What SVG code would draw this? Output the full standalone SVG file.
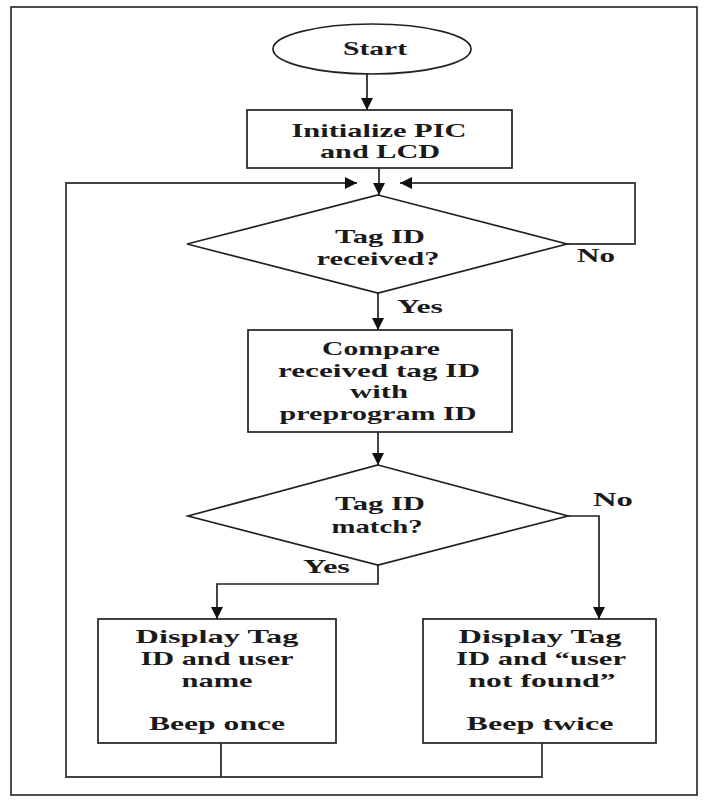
<svg xmlns="http://www.w3.org/2000/svg" width="707" height="803" viewBox="0 0 707 803">
<style>
.shape{fill:#fff;stroke:#222;stroke-width:1.7}
.line{fill:none;stroke:#222;stroke-width:1.7}
.loop{fill:none;stroke:#444;stroke-width:1.9}
text{font-family:"Liberation Serif","Times New Roman",serif;font-size:19px;font-weight:bold;fill:#1a1a1a;text-anchor:middle}
.lbl{text-anchor:start}
</style>
<defs>
<marker id="ah" markerUnits="userSpaceOnUse" markerWidth="12" markerHeight="12" refX="12" refY="6" orient="auto">
<path d="M0,0 L12,6 L0,12 z" fill="#111"/>
</marker>
</defs>
<rect x="11" y="7" width="686" height="788" fill="#fff" stroke="#222" stroke-width="1.6"/>
<g id="connectors">
<path class="line" d="M367,74 L367,110" marker-end="url(#ah)"/>
<path class="line" d="M379,168 L379,195" marker-end="url(#ah)"/>
<path class="loop" d="M567,244 L635,244 L635,183 L400,183" marker-end="url(#ah)"/>
<path class="loop" d="M542,743 L542,777 L66,777 L66,183 L357,183" marker-end="url(#ah)"/>
<path class="line" d="M221,743 L221,777"/>
<path class="line" d="M378,293 L378,330" marker-end="url(#ah)"/>
<path class="line" d="M378,432 L378,465" marker-end="url(#ah)"/>
<path class="line" d="M568,516 L599,516 L599,619" marker-end="url(#ah)"/>
<path class="line" d="M378,565 L378,584 L217,584 L217,619" marker-end="url(#ah)"/>
<text class="lbl" x="577" y="262" textLength="38" lengthAdjust="spacingAndGlyphs">No</text>
<text class="lbl" x="397" y="313" textLength="46" lengthAdjust="spacingAndGlyphs">Yes</text>
<text class="lbl" x="593" y="506" textLength="40" lengthAdjust="spacingAndGlyphs">No</text>
<text class="lbl" x="303" y="573" textLength="47" lengthAdjust="spacingAndGlyphs">Yes</text>
</g>
<g id="start">
<ellipse class="shape" cx="372" cy="49" rx="99" ry="25"/>
<text x="375" y="55" textLength="64" lengthAdjust="spacingAndGlyphs">Start</text>
</g>
<g id="init">
<rect class="shape" x="247" y="110" width="265" height="58"/>
<text x="379" y="137" textLength="175" lengthAdjust="spacingAndGlyphs">Initialize PIC</text>
<text x="380" y="158" textLength="120" lengthAdjust="spacingAndGlyphs">and LCD</text>
</g>
<g id="received">
<polygon class="shape" points="378,195 567,244 378,293 187,244"/>
<text x="380" y="243" textLength="90" lengthAdjust="spacingAndGlyphs">Tag ID</text>
<text x="378" y="265" textLength="123" lengthAdjust="spacingAndGlyphs">received?</text>
</g>
<g id="compare">
<rect class="shape" x="248" y="330" width="264" height="102"/>
<text x="381" y="355" textLength="118" lengthAdjust="spacingAndGlyphs">Compare</text>
<text x="379" y="377" textLength="202" lengthAdjust="spacingAndGlyphs">received tag ID</text>
<text x="379" y="398" textLength="58" lengthAdjust="spacingAndGlyphs">with</text>
<text x="378" y="420" textLength="197" lengthAdjust="spacingAndGlyphs">preprogram ID</text>
</g>
<g id="match">
<polygon class="shape" points="378,465 568,516 378,565 188,516"/>
<text x="380" y="510" textLength="90" lengthAdjust="spacingAndGlyphs">Tag ID</text>
<text x="377" y="533" textLength="91" lengthAdjust="spacingAndGlyphs">match?</text>
</g>
<g id="found">
<rect class="shape" x="98" y="619" width="238" height="124"/>
<text x="217" y="643" textLength="163" lengthAdjust="spacingAndGlyphs">Display Tag</text>
<text x="217" y="665" textLength="153" lengthAdjust="spacingAndGlyphs">ID and user</text>
<text x="217" y="687" textLength="71" lengthAdjust="spacingAndGlyphs">name</text>
<text x="217" y="730" textLength="136" lengthAdjust="spacingAndGlyphs">Beep once</text>
</g>
<g id="notfound">
<rect class="shape" x="423" y="619" width="233" height="124"/>
<text x="540" y="643" textLength="163" lengthAdjust="spacingAndGlyphs">Display Tag</text>
<text x="541" y="665" textLength="170" lengthAdjust="spacingAndGlyphs">ID and “user</text>
<text x="542" y="687" textLength="147" lengthAdjust="spacingAndGlyphs">not found”</text>
<text x="540" y="730" textLength="147" lengthAdjust="spacingAndGlyphs">Beep twice</text>
</g>
</svg>
